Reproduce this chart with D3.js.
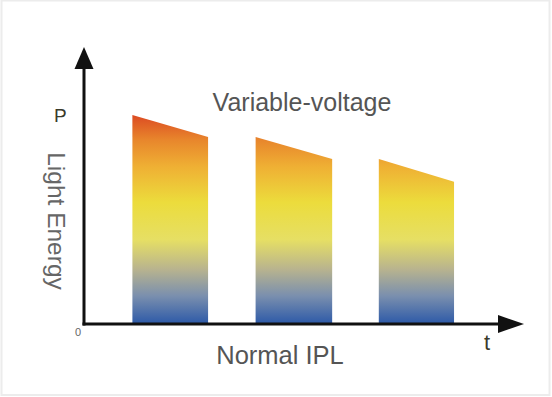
<!DOCTYPE html>
<html>
<head>
<meta charset="utf-8">
<script src="https://cdn.jsdelivr.net/npm/d3@7"></script>
<style>
  html, body { margin: 0; padding: 0; background: #fff; }
  svg { display: block; font-family: "Liberation Sans", Arial, sans-serif; }
</style>
</head>
<body>
<div id="chart"></div>
<script>
// pulse data (t in arbitrary units, energy in % of axis)
const pulseStart = [11, 39, 67];
const pulseEnd = [28.2, 56.4, 84.1];
const energyStart = [75.4, 67.4, 59.4];
const energyEnd = [67.4, 59.4, 51.2];

const gradStops = [
  { offset: 0, color: "#dc4a22" },
  { offset: 0.12, color: "#e8862c" },
  { offset: 0.25, color: "#efb034" },
  { offset: 0.42, color: "#ecdc3c" },
  { offset: 0.6, color: "#e6df64" },
  { offset: 0.74, color: "#b9b48e" },
  { offset: 0.87, color: "#7a8fae" },
  { offset: 1, color: "#2f5ba8" }
];

const width = 552, height = 397;

const svg = d3.select("#chart").append("svg")
  .attr("width", width)
  .attr("height", height);

// faint frame like the screenshot
svg.append("rect")
  .attr("x", 1.5).attr("y", 0.5)
  .attr("width", 548).attr("height", 394.5)
  .attr("fill", "none")
  .attr("stroke", "#ececec")
  .attr("stroke-width", 2);

const x = d3.scaleLinear().domain([0, 100]).range([84, 524]);
const y = d3.scaleLinear().domain([0, 100]).range([323, 47]);

const defs = svg.append("defs");
const grad = defs.append("linearGradient")
  .attr("id", "pulseGrad")
  .attr("gradientUnits", "userSpaceOnUse")
  .attr("x1", 0).attr("x2", 0)
  .attr("y1", y(75.4)).attr("y2", y(0));
grad.selectAll("stop").data(gradStops).enter()
  .append("stop")
  .attr("offset", d => d.offset)
  .attr("stop-color", d => d.color);

const pulses = pulseStart.map((s, i) => ({
  t0: s, t1: pulseEnd[i], e0: energyStart[i], e1: energyEnd[i]
}));

svg.selectAll(".pulse").data(pulses).enter()
  .append("path")
  .attr("class", "pulse")
  .attr("fill", "url(#pulseGrad)")
  .attr("d", d => "M" + x(d.t0) + "," + y(0) +
    "L" + x(d.t0) + "," + y(d.e0) +
    "L" + x(d.t1) + "," + y(d.e1) +
    "L" + x(d.t1) + "," + y(0) + "Z");

// axes with arrow heads
const axisY = y(0) + 1;
svg.append("line")
  .attr("x1", x(0)).attr("x2", x(0))
  .attr("y1", axisY + 1.5).attr("y2", y(100) + 15)
  .attr("stroke", "#111").attr("stroke-width", 3);
svg.append("line")
  .attr("x1", x(0) - 1.5).attr("x2", x(100) - 20)
  .attr("y1", axisY).attr("y2", axisY)
  .attr("stroke", "#111").attr("stroke-width", 3);

svg.append("path")
  .attr("fill", "#111")
  .attr("d", "M" + x(0) + "," + y(100) +
    "L" + (x(0) - 9.5) + "," + (y(100) + 22) +
    "L" + (x(0) + 9.5) + "," + (y(100) + 22) + "Z");
svg.append("path")
  .attr("fill", "#111")
  .attr("d", "M" + x(100) + "," + axisY +
    "L" + (x(100) - 26) + "," + (axisY - 9) +
    "L" + (x(100) - 26) + "," + (axisY + 9) + "Z");

// labels
svg.append("text")
  .attr("x", 54).attr("y", 122)
  .attr("font-size", 19).attr("fill", "#3a3a2a")
  .text("P");

svg.append("text")
  .attr("transform", "translate(48,221) rotate(90)")
  .attr("text-anchor", "middle")
  .attr("font-size", 24.5).attr("fill", "#666")
  .text("Light Energy");

svg.append("text")
  .attr("x", 78).attr("y", 336)
  .attr("text-anchor", "middle")
  .attr("font-size", 11).attr("fill", "#666")
  .text("0");

svg.append("text")
  .attr("x", 487).attr("y", 350)
  .attr("text-anchor", "middle")
  .attr("font-size", 22).attr("fill", "#3a3a2a")
  .text("t");

svg.append("text")
  .attr("x", 302).attr("y", 111)
  .attr("text-anchor", "middle")
  .attr("font-size", 25).attr("fill", "#555")
  .text("Variable-voltage");

svg.append("text")
  .attr("x", 280).attr("y", 364)
  .attr("text-anchor", "middle")
  .attr("font-size", 25.5).attr("fill", "#555")
  .text("Normal IPL");
</script>
</body>
</html>
